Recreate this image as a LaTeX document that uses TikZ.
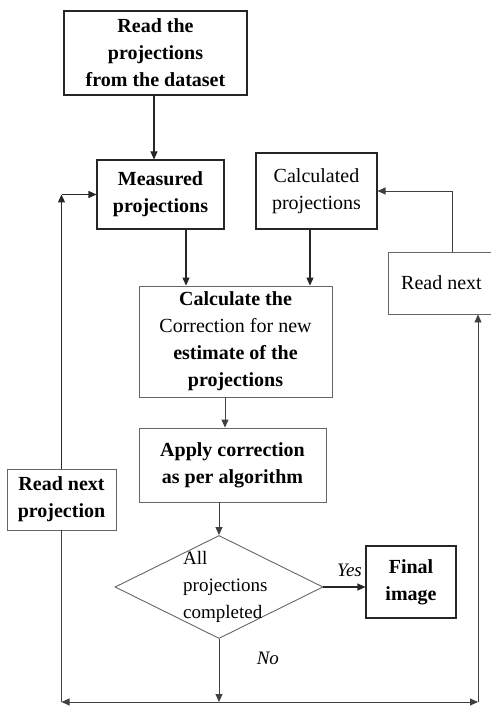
\documentclass[tikz,border=0pt]{standalone}
\usepackage{fontspec}
\setmainfont{Liberation Serif}
\usepackage{tikz}
\usetikzlibrary{arrows.meta,shapes.geometric}

\begin{document}
\begin{tikzpicture}[
    x=1pt,y=-1pt,
    >={Triangle[length=8pt,width=7pt]},
    proc/.style={rectangle,draw=black!85,line width=1.1pt,align=center,
                 inner sep=0pt,font=\fontsize{20}{27}\selectfont\bfseries},
    lproc/.style={proc,draw=black!60,line width=0.9pt},
    plain/.style={font=\fontsize{20}{27}\selectfont\mdseries},
    decide/.style={diamond,draw=black!60,line width=0.9pt,inner sep=0pt,
                   minimum width=208pt,minimum height=103pt},
    flow/.style={->,line width=1.1pt,black!85},
    lflow/.style={->,line width=0.9pt,black!75},
    tag/.style={text=black,font=\fontsize{19}{22}\selectfont\itshape}
  ]
    \useasboundingbox (0,0) rectangle (490,711);
    % Top: input
    \node[proc] (read) at (155.5,53) [minimum width=183pt,minimum height=84pt]
      {Read the\\projections\\from the dataset};
    % Row 2: projections
    \node[proc] (meas) at (160.5,194.5) [minimum width=127pt,minimum height=69pt]
      {Measured\\projections};
    \node[proc,plain] (calc) at (316.5,191) [minimum width=121pt,minimum height=76pt]
      {Calculated\\projections};
    \node[lproc,plain] (rn) at (441.5,283) [minimum width=107pt,minimum height=62pt]
      {Read next};
    % Correction
    \node[lproc] (corr) at (235.5,341.5) [minimum width=193pt,minimum height=111pt]
      {Calculate the\\\mdseries Correction for new\\estimate of the\\projections};
    \node[lproc] (apply) at (232.5,465) [minimum width=187pt,minimum height=74pt]
      {Apply correction\\as per algorithm};
    \node[lproc] (rnp) at (61.5,499.5) [minimum width=109pt,minimum height=61pt]
      {Read next\\projection};
    % Decision
    \node[decide] (chk) at (219,587) {};
    \node[align=left,inner sep=0pt,anchor=west,
          font=\fontsize{19}{27}\selectfont] (chkt) at (183,587)
      {All\\projections\\completed};
    \node[proc] (fin) at (411,582) [minimum width=90pt,minimum height=72pt]
      {Final\\image};
    % Junctions
    \coordinate (lc) at (rnp.north |- meas.west);
    \coordinate (jn) at (219,702);
    \coordinate (jl) at (61.5,702);
    \coordinate (jr) at (478,702);

    % Arrows
    \draw[flow] ([xshift=-1.5pt]read.south) -- ([xshift=-1.5pt]read.south |- meas.north);
    \draw[flow] ([xshift=25.5pt]meas.south) -- ([xshift=25.5pt]meas.south |- corr.north);
    \draw[flow] ([xshift=-6.5pt]calc.south) -- ([xshift=-6.5pt]calc.south |- corr.north);
    \draw[lflow] ([xshift=10.5pt]rn.north) |- (calc.east);
    \draw[lflow] ([xshift=-10.5pt]corr.south) -- ([xshift=-10.5pt]corr.south |- apply.north);
    \draw[lflow] ([xshift=-13.5pt]apply.south) -- (chk.north);
    \draw[flow] (chk.east) -- (chk.east -| fin.west)
      node[tag,pos=0.62,above,yshift=6pt] (yes) {Yes};
    \draw[lflow] (chk.south) -- (jn)
      node[tag,pos=0.3,right,xshift=34pt] (no) {No};
    \draw[lflow] (jn) -- (jl);
    \draw[lflow] (jn) -- (jr);
    \draw[lflow,-] (jl) -- (rnp.south);
    \draw[lflow] (jr) -- (jr |- rn.south);
    \draw[flow] (rnp.north) -- (lc);
    \draw[flow] (lc) -- (meas.west);
  \end{tikzpicture}
\end{document}
